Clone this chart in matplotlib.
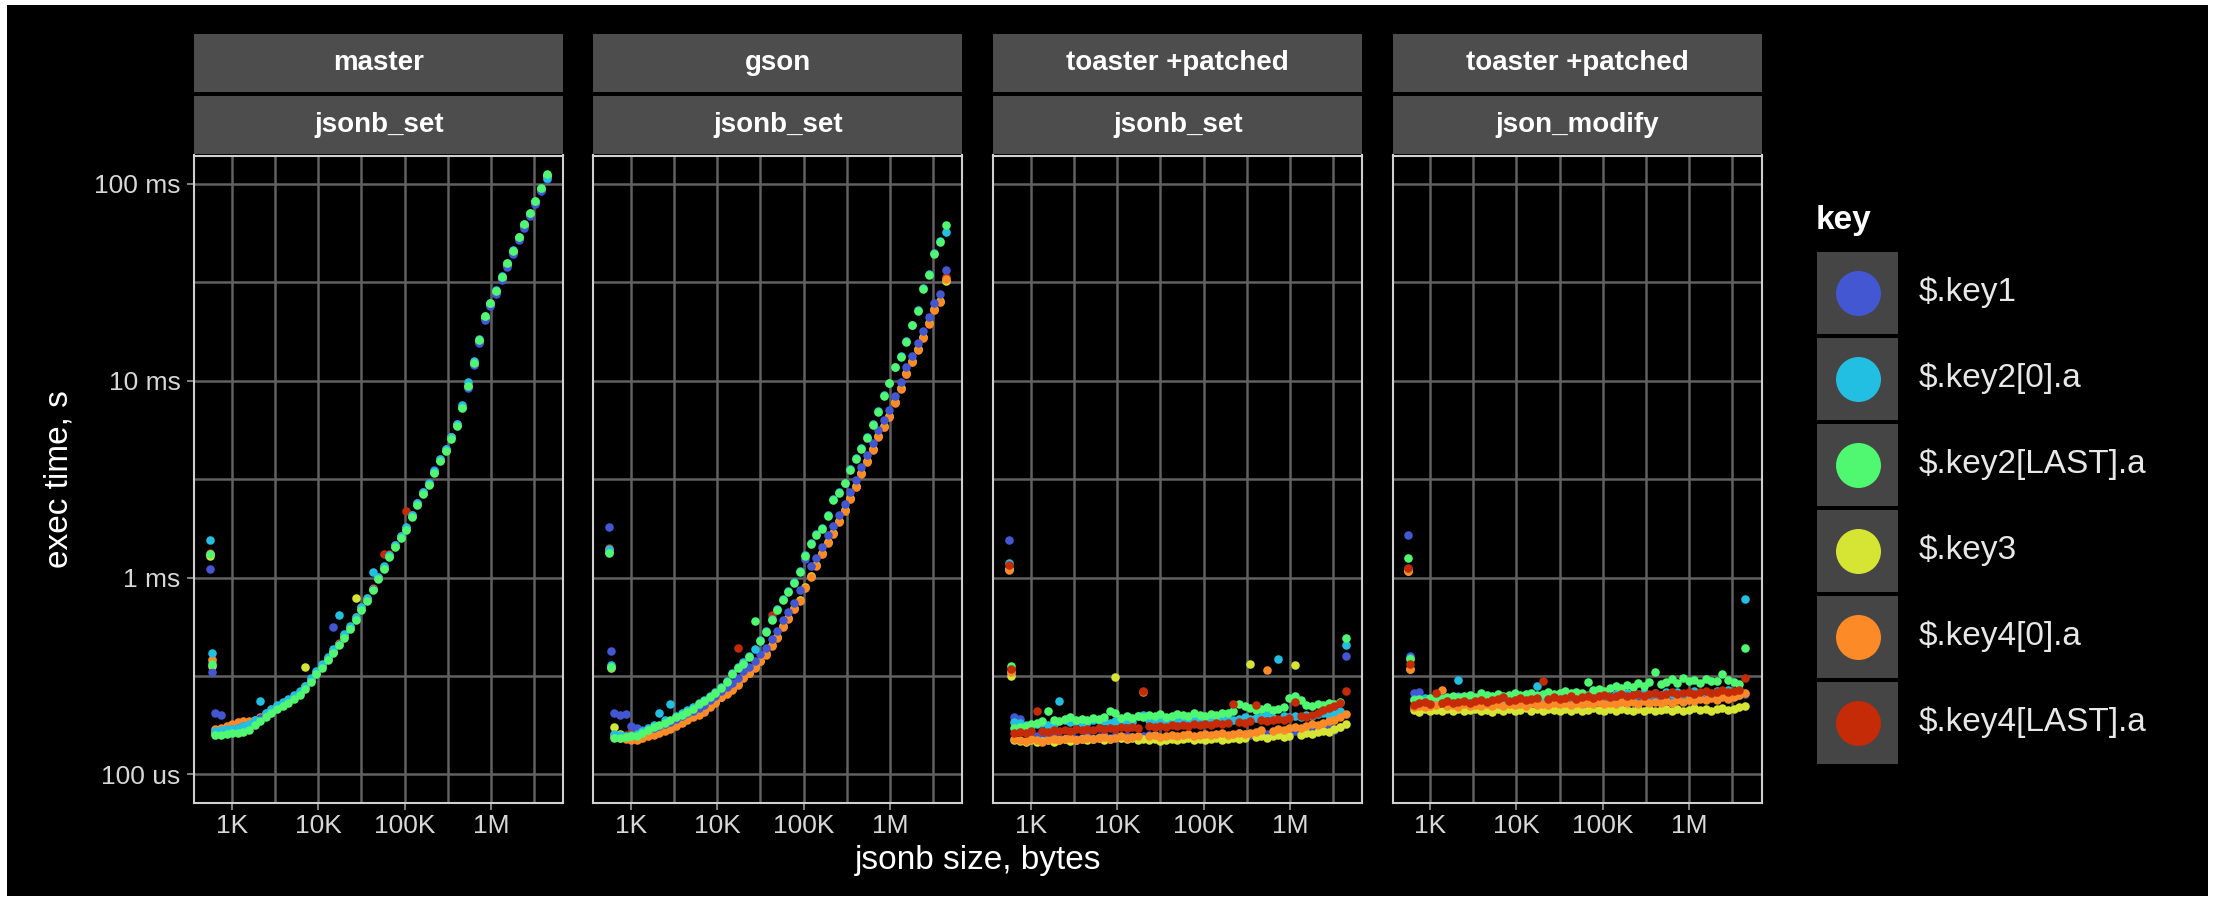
import numpy as np
import matplotlib
matplotlib.use("Agg")
import matplotlib.pyplot as plt
from matplotlib.patches import Rectangle
from matplotlib.ticker import FixedLocator, FixedFormatter, NullFormatter

plt.rcParams['font.family'] = ['Liberation Sans', 'DejaVu Sans']

W, H = 2218, 901

keys = ["$.key1", "$.key2[0].a", "$.key2[LAST].a", "$.key3", "$.key4[0].a", "$.key4[LAST].a"]
colors = ["#4357d2", "#23bfe2", "#4ff870", "#d6e433", "#fb8a27", "#c42b06"]
# which series ends up on top differs per facet in the original
draw_orders = [[5, 4, 3, 0, 1, 2], [5, 3, 4, 0, 1, 2], [0, 1, 2, 3, 4, 5], [0, 1, 2, 3, 4, 5]]

strip_top = ["master", "gson", "toaster +patched", "toaster +patched"]
strip_bottom = ["jsonb_set", "jsonb_set", "jsonb_set", "json_modify"]

x_breaks = [1e3, 1e4, 1e5, 1e6]
x_labels = ["1K", "10K", "100K", "1M"]
y_breaks = [1e-4, 1e-3, 1e-2, 1e-1]
y_labels = ["100 us", "1 ms", "10 ms", "100 ms"]

# jsonb size, bytes
sizes = [562, 590, 646, 750, 871, 1012, 1175, 1365, 1585, 1841, 2138, 2483, 2884, 3350, 3890, 4519,
         5248, 6095, 7079, 8222, 9550, 11092, 12882, 14962, 17378, 20184, 23442, 27227, 31623, 36728,
         42658, 49545, 57544, 66834, 77625, 90157, 104713, 121619, 141254, 164059, 190546, 221309,
         257040, 298538, 346737, 402717, 467735, 543250, 630957, 732825, 851138, 988553, 1148154,
         1333521, 1548817, 1798871, 2089296, 2426610, 2818383, 3273407, 3801894, 4415704]

# exec time, microseconds
master_key1 = [1100, 331, 204, 200, 168, 170, 172, 176, 178, 186, 194, 205, 212, 222, 230, 240, 248, 262, 280, 305, 332, 358, 390, 560, 462, 508, 556, 620, 700, 772, 880, 1000, 1130, 1290, 1460, 1620, 1790, 2080, 2400, 2720, 3040, 3500, 4010, 4480, 5200, 6050, 7400, 9200, 12000, 15500, 20400, 24000, 27600, 32500, 38000, 44200, 52000, 60000, 68600, 79000, 92000, 106000]
master_key2_0 = [1549, 412, 166, 168, 170, 171, 173, 176, 180, 190, 236, 206, 216, 226, 234, 243, 252, 266, 283, 308, 335, 362, 396, 432, 646, 516, 566, 630, 708, 785, 1072, 1010, 1140, 1300, 1470, 1630, 1800, 2080, 2400, 2720, 3030, 3480, 4000, 4480, 5200, 6050, 7500, 9900, 12600, 16200, 21200, 24800, 28800, 34000, 39800, 46000, 54000, 62500, 71000, 82000, 95500, 107000]
master_key2_last = [1318, 363, 158, 159, 160, 162, 163, 165, 168, 178, 187, 196, 205, 214, 222, 231, 241, 254, 271, 296, 322, 348, 380, 414, 452, 496, 545, 608, 686, 760, 864, 980, 1110, 1270, 1435, 1590, 1750, 2030, 2340, 2660, 2960, 3400, 3900, 4380, 5080, 5900, 7250, 9450, 12300, 16100, 21300, 24700, 28700, 33800, 39500, 45800, 54000, 62300, 71000, 82000, 95500, 112000]
master_key3 = [1290, 355, 163, 165, 167, 170, 171, 174, 177, 186, 194, 202, 211, 220, 228, 237, 247, 260, 352, 302, 328, 354, 386, 420, 460, 504, 553, 785, 696, 770, 876, 994, 1122, 1285, 1450, 1610, 1770, 2050, 2360, 2690, 3000, 3440, 3950, 4430, 5150, 5970, 7350, 9300, 12100, 15800, 20800, 24200, 28100, 33100, 38700, 44900, 52800, 61000, 69500, 80300, 93500, 109000]
master_key4_0 = [1310, 380, 170, 172, 176, 180, 184, 186, 187, 190, 196, 203, 211, 220, 228, 237, 247, 260, 277, 302, 328, 355, 387, 421, 460, 505, 555, 618, 697, 772, 878, 996, 1125, 1290, 1455, 1615, 1780, 2055, 2370, 2695, 3005, 3450, 3960, 4440, 5160, 5990, 7370, 9380, 12200, 15900, 21000, 24400, 28300, 33400, 39100, 45300, 53300, 61500, 70100, 81000, 94300, 110000]
master_key4_last = [1340, 385, 167, 168, 172, 178, 182, 185, 183, 188, 194, 204, 214, 223, 231, 240, 250, 263, 281, 306, 333, 359, 392, 428, 468, 512, 562, 628, 708, 784, 890, 1010, 1318, 1320, 1470, 1625, 2188, 2070, 2380, 2700, 3010, 3460, 3970, 4450, 5170, 6000, 7380, 9400, 12250, 15950, 21000, 24400, 28400, 33500, 39200, 45400, 53400, 61700, 70300, 81300, 94600, 110500]

gson_key1 = [1800, 424, 205, 200, 203, 176, 172, 168, 170, 173, 177, 180, 185, 191, 197, 204, 211, 218, 225, 238, 250, 266, 277, 291, 310, 334, 353, 377, 407, 440, 486, 535, 607, 667, 747, 860, 1250, 1140, 1260, 1430, 1640, 1820, 2090, 2370, 2720, 3120, 3660, 4200, 4830, 5630, 6290, 7140, 8380, 9850, 11700, 13400, 15600, 17900, 21100, 24700, 27500, 36300]
gson_key2_0 = [1400, 360, 160, 158, 157, 158, 160, 166, 172, 178, 204, 188, 229, 199, 205, 212, 219, 230, 239, 251, 263, 278, 298, 327, 350, 371, 398, 433, 484, 536, 614, 690, 778, 858, 950, 1085, 1300, 1505, 1665, 1790, 2080, 2500, 2720, 3040, 3570, 4050, 4570, 5160, 6030, 7020, 8460, 9760, 11800, 13300, 15900, 19300, 22800, 29700, 34800, 44300, 51000, 57000]
gson_key2_last = [1330, 352, 154, 154, 155, 156, 157, 163, 168, 174, 179, 183, 189, 195, 201, 208, 215, 227, 235, 247, 259, 274, 294, 322, 346, 366, 393, 603, 477, 529, 606, 681, 768, 848, 940, 1072, 1283, 1488, 1646, 1772, 2058, 2475, 2695, 3010, 3535, 4015, 4525, 5110, 5980, 6960, 8390, 9680, 11700, 13200, 15800, 19100, 22500, 29400, 34400, 43800, 50500, 61600]
gson_key3 = [1350, 348, 174, 160, 155, 153, 152, 155, 158, 161, 165, 168, 173, 178, 184, 191, 197, 203, 210, 222, 233, 248, 258, 271, 288, 311, 329, 351, 379, 410, 453, 498, 566, 621, 697, 772, 897, 1019, 1156, 1327, 1524, 1690, 1941, 2203, 2529, 2904, 3411, 3917, 4497, 5248, 5861, 6652, 7815, 9183, 10910, 12530, 14550, 16710, 19630, 23060, 25290, 32000]
gson_key4_0 = [1380, 352, 156, 153, 151, 150, 150, 153, 156, 159, 163, 166, 171, 176, 182, 189, 195, 201, 208, 220, 231, 246, 256, 269, 286, 308, 326, 348, 375, 405, 448, 493, 559, 614, 689, 763, 887, 1007, 1142, 1311, 1506, 1670, 1918, 2177, 2499, 2869, 3371, 3870, 4444, 5186, 5792, 6574, 7723, 9074, 10785, 12383, 14382, 16513, 19400, 22790, 24990, 32700]
gson_key4_last = [1420, 355, 158, 156, 158, 165, 152, 154, 157, 161, 165, 168, 173, 178, 184, 191, 197, 203, 210, 222, 233, 248, 258, 271, 440, 310, 328, 351, 378, 417, 645, 497, 565, 620, 695, 770, 895, 1016, 1152, 1323, 1520, 1685, 1935, 2196, 2521, 2894, 3400, 3904, 4483, 5231, 5842, 6631, 7790, 9153, 10878, 12490, 14506, 16656, 19570, 22990, 25210, 33500]

tset_key1 = [1550, 320, 196, 192, 170, 160, 156, 158, 154, 156, 153, 152, 155, 151, 153, 156, 152, 155, 158, 154, 156, 153, 157, 155, 152, 156, 158, 154, 151, 155, 157, 153, 156, 158, 155, 157, 159, 156, 158, 160, 157, 159, 162, 160, 158, 161, 163, 160, 162, 165, 162, 164, 167, 164, 166, 169, 166, 170, 172, 169, 174, 398]
tset_key2_0 = [1180, 330, 185, 182, 178, 176, 180, 183, 179, 181, 236, 188, 184, 186, 182, 185, 188, 190, 186, 183, 187, 185, 189, 184, 198, 200, 188, 190, 186, 184, 188, 191, 187, 189, 192, 188, 186, 190, 193, 189, 191, 188, 192, 195, 191, 194, 196, 205, 193, 385, 197, 195, 199, 196, 200, 198, 202, 205, 201, 206, 210, 455]
tset_key2_last = [1100, 355, 172, 174, 176, 180, 183, 186, 209, 190, 187, 192, 195, 189, 192, 188, 194, 191, 196, 210, 206, 193, 197, 194, 198, 195, 200, 197, 202, 196, 199, 203, 200, 198, 205, 201, 198, 202, 200, 204, 206, 210, 228, 224, 218, 212, 215, 219, 213, 216, 220, 245, 251, 240, 226, 222, 228, 225, 230, 228, 234, 495]
tset_key3 = [1100, 316, 150, 148, 147, 149, 146, 148, 150, 147, 149, 151, 148, 150, 152, 149, 151, 153, 150, 152, 313, 154, 151, 153, 150, 152, 149, 151, 148, 150, 152, 149, 151, 153, 150, 152, 149, 151, 153, 150, 152, 154, 151, 153, 366, 155, 157, 154, 156, 158, 155, 157, 360, 159, 162, 160, 164, 167, 165, 170, 174, 180]
tset_key4_0 = [1090, 330, 152, 150, 148, 151, 149, 147, 150, 152, 149, 151, 153, 150, 152, 154, 151, 153, 155, 152, 154, 156, 153, 155, 157, 263, 156, 158, 155, 157, 159, 156, 158, 160, 157, 159, 161, 158, 160, 162, 159, 161, 163, 160, 162, 164, 168, 339, 166, 170, 168, 172, 175, 173, 177, 180, 178, 182, 186, 190, 195, 202]
tset_key4_last = [1160, 342, 162, 165, 163, 166, 210, 167, 164, 168, 166, 169, 167, 170, 168, 171, 169, 172, 170, 173, 171, 174, 172, 175, 173, 265, 176, 174, 177, 175, 178, 176, 179, 177, 180, 178, 181, 179, 182, 180, 183, 229, 185, 183, 186, 225, 188, 186, 190, 192, 190, 194, 234, 198, 196, 200, 205, 212, 218, 222, 230, 265]

tmod_key1 = [1650, 398, 260, 262, 232, 230, 228, 231, 229, 232, 250, 230, 233, 231, 234, 232, 235, 233, 236, 234, 237, 235, 238, 236, 239, 237, 240, 238, 236, 239, 237, 240, 238, 241, 239, 242, 240, 243, 241, 244, 242, 245, 243, 246, 244, 247, 245, 248, 246, 249, 247, 250, 248, 251, 249, 252, 250, 253, 251, 254, 252, 256]
tmod_key2_0 = [1100, 390, 243, 238, 245, 240, 236, 244, 241, 247, 302, 239, 246, 242, 248, 240, 245, 250, 243, 247, 241, 249, 244, 251, 283, 246, 252, 248, 244, 253, 249, 255, 247, 252, 258, 250, 254, 248, 257, 253, 259, 251, 256, 262, 254, 258, 252, 261, 257, 263, 255, 260, 266, 258, 262, 256, 265, 260, 268, 263, 270, 776]
tmod_key2_last = [1260, 385, 238, 241, 236, 244, 248, 242, 247, 251, 246, 249, 253, 247, 258, 252, 249, 255, 251, 254, 258, 252, 256, 260, 254, 257, 262, 256, 260, 264, 258, 262, 258, 295, 268, 272, 265, 276, 281, 274, 285, 279, 290, 283, 296, 331, 288, 296, 305, 290, 310, 298, 303, 291, 306, 297, 300, 325, 303, 296, 289, 441]
tmod_key3 = [1080, 345, 212, 208, 215, 210, 213, 209, 216, 211, 214, 209, 212, 216, 210, 213, 208, 214, 211, 215, 209, 213, 217, 211, 214, 210, 216, 212, 209, 215, 211, 214, 210, 213, 217, 212, 209, 214, 211, 216, 212, 209, 214, 211, 215, 210, 213, 216, 211, 214, 210, 213, 217, 212, 215, 211, 214, 217, 213, 216, 220, 224]
tmod_key4_0 = [1080, 342, 220, 224, 219, 223, 226, 270, 222, 225, 221, 227, 223, 226, 222, 228, 224, 227, 223, 229, 225, 228, 224, 230, 226, 229, 225, 231, 227, 230, 226, 232, 228, 231, 227, 233, 229, 232, 228, 234, 230, 233, 229, 235, 231, 234, 230, 236, 232, 238, 234, 240, 236, 242, 238, 244, 240, 246, 242, 248, 252, 258]
tmod_key4_last = [1120, 366, 226, 230, 233, 228, 260, 232, 235, 230, 234, 237, 232, 236, 239, 234, 238, 241, 248, 236, 240, 244, 238, 242, 245, 299, 243, 247, 241, 245, 249, 243, 247, 251, 245, 249, 253, 247, 251, 255, 249, 253, 257, 251, 255, 259, 253, 257, 261, 255, 259, 263, 257, 261, 265, 259, 263, 267, 261, 265, 268, 309]

panels = [
    [master_key1, master_key2_0, master_key2_last, master_key3, master_key4_0, master_key4_last],
    [gson_key1, gson_key2_0, gson_key2_last, gson_key3, gson_key4_0, gson_key4_last],
    [tset_key1, tset_key2_0, tset_key2_last, tset_key3, tset_key4_0, tset_key4_last],
    [tmod_key1, tmod_key2_0, tmod_key2_last, tmod_key3, tmod_key4_0, tmod_key4_last],
]


def fig_box(x0, y0, x1, y1):
    # pixel box, origin top-left -> figure fraction [left, bottom, width, height]
    return [x0 / W, 1 - y1 / H, (x1 - x0) / W, (y1 - y0) / H]


fig = plt.figure(figsize=(W / 100, H / 100), dpi=100, facecolor="white")

# background + legend layer, in pixel coordinates
bg = fig.add_axes([0, 0, 1, 1], zorder=0)
bg.set_xlim(0, W)
bg.set_ylim(H, 0)
bg.axis("off")
bg.add_patch(Rectangle((7, 5), 2201, 891, facecolor="black", edgecolor="none"))

panel_lefts = [194.3, 593.3, 993.3, 1392.5]
PW = 369
PT, PB = 155.5, 803

for i, series in enumerate(panels):
    L = panel_lefts[i]
    ax = fig.add_axes(fig_box(L, PT, L + PW, PB), zorder=2)
    ax.set_facecolor("black")
    ax.set_xscale("log")
    ax.set_yscale("log")
    ax.set_xlim(10**2.567, 10**6.838)
    ax.set_ylim(10**-4.145, 10**-0.856)

    ax.xaxis.set_major_locator(FixedLocator(x_breaks))
    ax.xaxis.set_major_formatter(FixedFormatter(x_labels))
    ax.xaxis.set_minor_locator(FixedLocator([10**3.5, 10**4.5, 10**5.5, 10**6.5]))
    ax.xaxis.set_minor_formatter(NullFormatter())
    ax.yaxis.set_major_locator(FixedLocator(y_breaks))
    ax.yaxis.set_major_formatter(FixedFormatter(y_labels))
    ax.yaxis.set_minor_locator(FixedLocator([10**-3.5, 10**-2.5, 10**-1.5]))
    ax.yaxis.set_minor_formatter(NullFormatter())

    ax.grid(True, which="both", color="#616161", linewidth=1.8)
    ax.set_axisbelow(True)
    for sp in ax.spines.values():
        sp.set_color("#d0d0d0")
        sp.set_linewidth(1.5)
    ax.tick_params(which="minor", length=0)
    ax.tick_params(which="major", length=5, width=1.2, color="#9a9a9a",
                   labelsize=19, labelcolor="#d8d8d8")
    ax.tick_params(axis="x", pad=3)
    ax.tick_params(axis="y", pad=5)
    if i > 0:
        ax.tick_params(axis="y", which="both", left=False, labelleft=False)

    for k in draw_orders[i]:
        ax.scatter(sizes, np.array(series[k]) * 1e-6, s=38, color=colors[k],
                   linewidths=0, zorder=3)

    for y0, y1, txt in [(33.5, 91.5, strip_top[i]), (95.5, 153.5, strip_bottom[i])]:
        sax = fig.add_axes(fig_box(L, y0, L + PW, y1), zorder=2)
        sax.set_facecolor("#4d4d4d")
        sax.set_xticks([])
        sax.set_yticks([])
        for sp in sax.spines.values():
            sp.set_visible(False)
        sax.text(0.5, 0.5, txt, ha="center", va="center", fontsize=20,
                 fontweight="bold", color="white", transform=sax.transAxes)

fig.text(978 / W, 1 - 860 / H, "jsonb size, bytes", ha="center", va="center",
         fontsize=24, color="white")
fig.text(59 / W, 1 - 479 / H, "exec time, s", ha="center", va="center",
         rotation=90, fontsize=24, color="white")

# legend
bg.text(1816, 220, "key", ha="left", va="center", fontsize=24, fontweight="bold", color="white")
for j, (k, c) in enumerate(zip(keys, colors)):
    top = 251.7 + j * 86
    bg.add_patch(Rectangle((1817, top), 81, 82, facecolor="#454545", edgecolor="none"))
    bg.scatter([1857.5], [top + 41], s=(45 * 0.72) ** 2, color=c, linewidths=0)
    bg.text(1919, top + 41, k.replace("$", r"\$"), ha="left", va="center",
            fontsize=24, color="#e8e8e8")

fig.savefig("out.png", dpi=100, facecolor=fig.get_facecolor())
